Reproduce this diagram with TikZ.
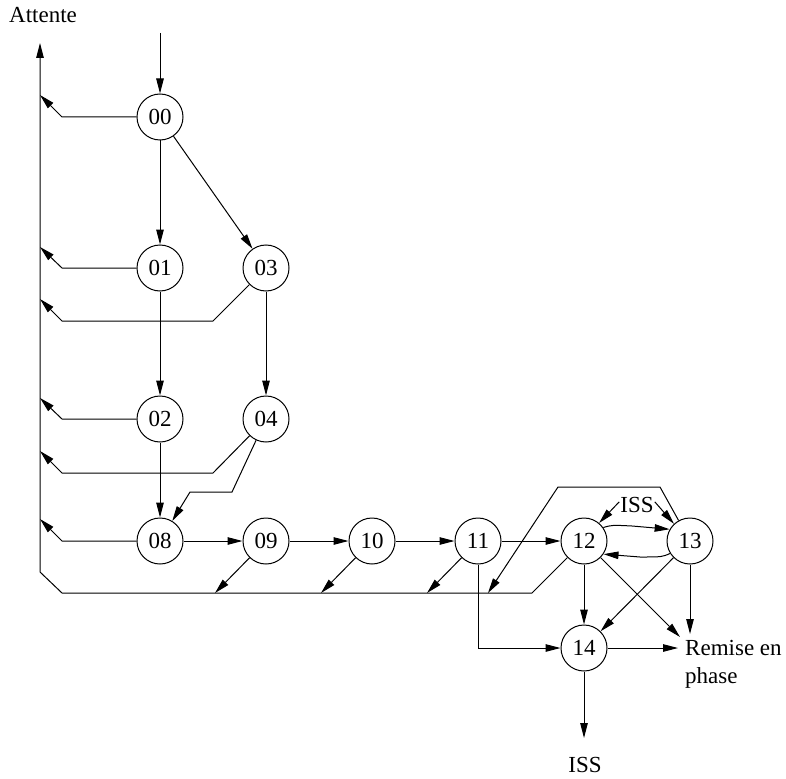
\documentclass[tikz,border=0pt]{standalone}
\usepackage{fontspec}
\setmainfont{Liberation Serif}
\usetikzlibrary{arrows.meta}
\begin{document}
\begin{tikzpicture}[x=1pt,y=-1pt,
  state/.style={circle,draw,line width=1pt,minimum size=46pt,inner sep=0pt,font=\fontsize{23}{27}\selectfont},
  lbl/.style={inner sep=1pt,font=\fontsize{23}{28}\selectfont},
  conn/.style={line width=1pt,-{Triangle[length=15pt,width=7.5pt]}},
  plain/.style={line width=1pt}]
\useasboundingbox (0,0) rectangle (786,778);
% states
\node[state] (s00) at (160,117) {00};
\node[state] (s01) at (160,268) {01};
\node[state] (s03) at (266,268) {03};
\node[state] (s02) at (160,419) {02};
\node[state] (s04) at (266,419) {04};
\node[state] (s08) at (160,541) {08};
\node[state] (s09) at (266,541) {09};
\node[state] (s10) at (372,541) {10};
\node[state] (s11) at (478,541) {11};
\node[state] (s12) at (584,541) {12};
\node[state] (s13) at (690,541) {13};
\node[state] (s14) at (584,648) {14};
% labels
\node[lbl] (attente) at (43,15) {Attente};
\node[lbl] (issa) at (637,505) {ISS};
\node[lbl] (issb) at (585,765) {ISS};
\node[lbl,align=left,anchor=west] (remise) at (684,664) {Remise en\\phase};
% coordinates
\coordinate (in00) at (160,33);
\coordinate (top) at (40,43);
\coordinate (c0) at (40,572);
\coordinate (c1) at (62,593);
\coordinate (c2) at (532,593);
\coordinate (t00) at (40,95);   \coordinate (h00) at (62,117);
\coordinate (t01) at (40,247);  \coordinate (h01) at (62,268);
\coordinate (t03) at (40,299);  \coordinate (h03) at (62,321); \coordinate (k03) at (213,321);
\coordinate (t02) at (40,398);  \coordinate (h02) at (62,419);
\coordinate (t04) at (40,451);  \coordinate (h04) at (62,473); \coordinate (k04) at (213,473);
\coordinate (t08) at (40,519);  \coordinate (h08) at (62,541);
\coordinate (p1) at (232,492);  \coordinate (p2) at (190,492);
\coordinate (b09) at (215,593);
\coordinate (b10) at (321,593);
\coordinate (b11) at (427,593);
\coordinate (b13) at (488,593);
\coordinate (u1) at (660,487);  \coordinate (u2) at (558,487);
\coordinate (k11) at (478,648);
\coordinate (r12) at (680,637);
\coordinate (r13) at (690,634);
\coordinate (r14) at (678,648);
\coordinate (iss14) at (584,738);
% main collector line to Attente
\draw[conn] (s12) -- (c2) -- (c1) -- (c0) -- (top);
\draw[conn] (in00) -- (s00);
% left returns
\draw[conn] (s00) -- (h00) -- (t00);
\draw[conn] (s01) -- (h01) -- (t01);
\draw[conn] (s03) -- (k03) -- (h03) -- (t03);
\draw[conn] (s02) -- (h02) -- (t02);
\draw[conn] (s04) -- (k04) -- (h04) -- (t04);
\draw[conn] (s08) -- (h08) -- (t08);
% tree
\draw[conn] (s00) -- (s01);
\draw[conn] (s00) -- (s03);
\draw[conn] (s01) -- (s02);
\draw[conn] (s03) -- (s04);
\draw[conn] (s02) -- (s08);
\draw[conn] (s04) -- (p1) -- (p2) -- (s08);
% chain
\draw[conn] (s08) -- (s09);
\draw[conn] (s09) -- (s10);
\draw[conn] (s10) -- (s11);
\draw[conn] (s11) -- (s12);
\draw[conn] (s09) -- (b09);
\draw[conn] (s10) -- (b10);
\draw[conn] (s11) -- (b11);
\draw[conn] (s13) -- (u1) -- (u2) -- (b13);
% 12 / 13 exchanges
\draw[conn] (s12.35) .. controls (612,525) .. (632,526) -- (s13.150);
\draw[conn] (s13.212) .. controls (662,557) .. (640,557) -- (s12.-34);
\draw[conn] (issa.170) -- (s12.50);
\draw[conn] (issa.10) -- (s13.133);
% to 14 and Remise en phase
\draw[conn] (s12) -- (s14);
\draw[conn] (s13) -- (s14);
\draw[conn] (s11) -- (k11) -- (s14);
\draw[conn] (s12) -- (r12);
\draw[conn] (s13) -- (r13);
\draw[conn] (s14) -- (r14);
\draw[conn] (s14) -- (iss14);
\end{tikzpicture}
\end{document}
